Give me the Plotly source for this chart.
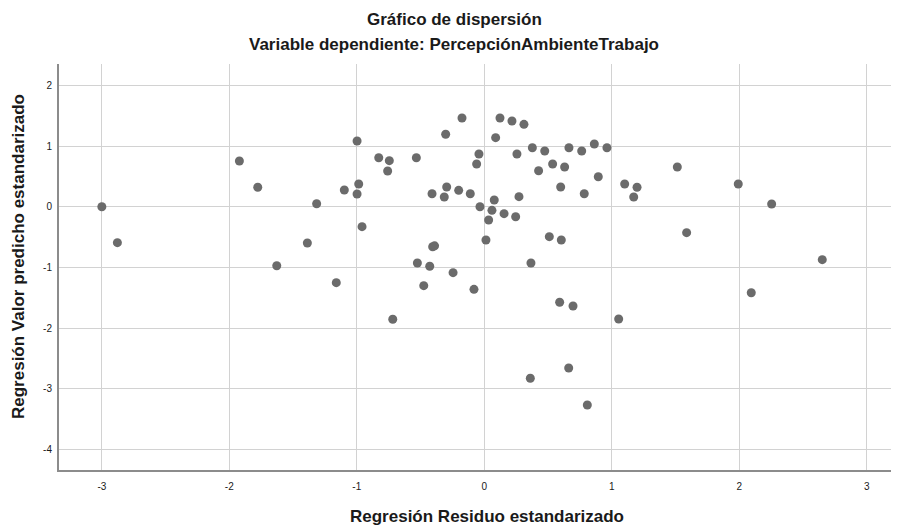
import plotly.graph_objects as go

residuo = [-3.0, -2.878, -1.921, -1.777, -1.315, -1.388, -1.628, -1.161, -0.998, -0.828,
           -0.745, -0.758, -0.533, -1.098, -0.985, -0.998, -0.959, -0.303, -0.175, 0.123,
           0.217, 0.311, 0.089, -0.042, -0.06, 0.256, 0.377, 0.474, 0.664, 0.764,
           0.863, 0.962, 0.426, 0.536, 0.630, 0.894, 0.599, 0.784, -0.41, -0.295,
           -0.314, -0.201, -0.11, -0.034, 0.078, 0.272, 0.06, 0.155, 0.246, 0.034,
           0.013, 0.51, 0.604, -0.405, -0.39, -0.525, -0.428, -0.245, 0.366, -0.718,
           -0.475, -0.081, 1.101, 1.198, 1.172, 1.514, 1.992, 2.254, 1.587, 2.651,
           0.591, 0.696, 1.054, 2.094, 0.361, 0.662, 0.808]
predicho = [0.0, -0.593, 0.753, 0.32, 0.049, -0.598, -0.972, -1.252, 1.082, 0.807,
            0.758, 0.588, 0.807, 0.275, 0.374, 0.209, -0.329, 1.193, 1.461, 1.461,
            1.412, 1.357, 1.137, 0.868, 0.703, 0.868, 0.972, 0.918, 0.972, 0.918,
            1.033, 0.972, 0.593, 0.703, 0.654, 0.494, 0.325, 0.214, 0.214, 0.325,
            0.16, 0.27, 0.214, 0.0, 0.11, 0.165, -0.06, -0.115, -0.165, -0.219,
            -0.549, -0.494, -0.549, -0.66, -0.645, -0.928, -0.982, -1.087, -0.928, -1.855,
            -1.301, -1.361, 0.374, 0.32, 0.16, 0.654, 0.374, 0.044, -0.428, -0.873,
            -1.575, -1.636, -1.85, -1.417, -2.827, -2.657, -3.267]

x_ticks = [-3, -2, -1, 0, 1, 2, 3]
y_ticks = [-4, -3, -2, -1, 0, 1, 2]

title = "Gráfico de dispersión"
subtitle = "Variable dependiente: PercepciónAmbienteTrabajo"
x_title = "Regresión Residuo estandarizado"
y_title = "Regresión Valor predicho estandarizado"

FONT = "Liberation Sans, Arial, sans-serif"
TXT = "#1a1a1a"

fig = go.Figure()
fig.add_trace(go.Scatter(
    x=residuo, y=predicho, mode="markers",
    marker=dict(size=9, color="#6b6b6b", line=dict(width=0)),
    showlegend=False, hoverinfo="x+y"))

# the page body adds an 8px margin, so the figure is 8px smaller on each axis
fig.update_layout(
    width=891, height=522,
    margin=dict(l=51, r=1, t=56, b=60, autoexpand=False),
    paper_bgcolor="white", plot_bgcolor="white",
    font=dict(family=FONT, color=TXT),
    xaxis=dict(range=[-3.336, 3.245], tickvals=x_ticks, ticktext=[str(v) for v in x_ticks],
               showgrid=True, gridcolor="#d2d2d2", gridwidth=1, zeroline=False,
               showline=True, linecolor="#8c8c8c", linewidth=2, mirror=False,
               ticks="outside", ticklen=6, tickcolor="rgba(0,0,0,0)",
               tickfont=dict(size=10, color=TXT)),
    yaxis=dict(range=[-4.338, 2.351], tickvals=y_ticks, ticktext=[str(v) for v in y_ticks],
               showgrid=True, gridcolor="#d2d2d2", gridwidth=1, zeroline=False,
               showline=True, linecolor="#8c8c8c", linewidth=2, mirror=False,
               ticks="outside", ticklen=3, tickcolor="rgba(0,0,0,0)",
               tickfont=dict(size=10, color=TXT)),
    annotations=[
        dict(text="<b>" + title + "</b>", xref="paper", yref="paper", x=0.471, y=1,
             xanchor="center", yanchor="middle", yshift=45, showarrow=False,
             font=dict(size=17, family=FONT, color=TXT)),
        dict(text="<b>" + subtitle + "</b>", xref="paper", yref="paper", x=0.471, y=1,
             xanchor="center", yanchor="middle", yshift=20, showarrow=False,
             font=dict(size=17, family=FONT, color=TXT)),
        dict(text="<b>" + x_title + "</b>", xref="paper", yref="paper", x=0.51, y=0,
             xanchor="center", yanchor="middle", yshift=-46, showarrow=False,
             font=dict(size=17, family=FONT, color=TXT)),
        dict(text="<b>" + y_title + "</b>", xref="paper", yref="paper", x=0, y=0.5,
             xanchor="center", yanchor="middle", xshift=-41, yshift=10, textangle=-90,
             showarrow=False, font=dict(size=17, family=FONT, color=TXT)),
    ],
)

fig.write_html("out.html")
